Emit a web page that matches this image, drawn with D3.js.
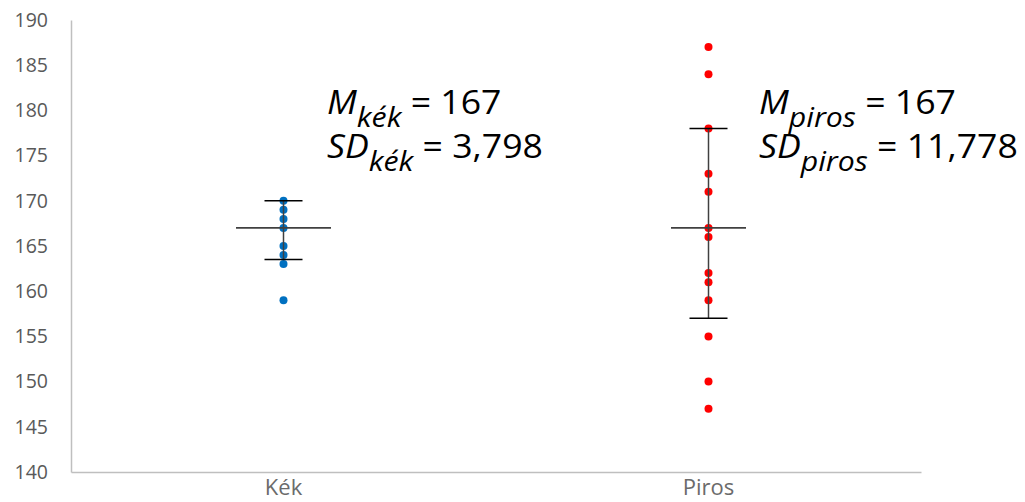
<!DOCTYPE html>
<html>
<head>
<meta charset="utf-8">
<script src="https://cdn.jsdelivr.net/npm/d3@7"></script>
<style>
  html, body { margin: 0; padding: 0; background: #fff; }
  svg { display: block; }
</style>
</head>
<body>
<svg id="chart" width="1025" height="502"></svg>
<script>
// Groups and individual heights (cm)
const categories = ["Kék", "Piros"];
const kekValues = [170, 169, 168, 167, 165, 164, 163, 159];
const pirosValues = [187, 184, 178, 173, 171, 167, 166, 162, 161, 159, 155, 150, 147];
const seriesValues = [kekValues, pirosValues];

// Group means, standard deviations and drawn error-bar ends
const means = [167, 167];
const sds = ["3,798", "11,778"];
const subscripts = ["kék", "piros"];
const errLow = [163.5, 157];
const errHigh = [170, 178];

// Axis ticks
const yTicks = [140, 145, 150, 155, 160, 165, 170, 175, 180, 185, 190];

const pointColors = ["#0070C0", "#FF0000"];
const meanHalfWidth = [47.5, 37.5];
const capHalfWidth = 19;

const svg = d3.select("#chart");
const plot = { left: 71, right: 921, top: 20, bottom: 472 };

const y = d3.scaleLinear().domain([140, 190]).range([plot.bottom, plot.top]);
const x = d3.scaleBand().domain(categories).range([plot.left, plot.right]);
const cx = c => x(c) + x.bandwidth() / 2;

const font = "'Open Sans', sans-serif";

// Y axis
const yAxis = svg.append("g")
  .attr("transform", `translate(${plot.left},0)`)
  .call(d3.axisLeft(y).tickValues(yTicks).tickSize(0).tickPadding(23));
yAxis.select(".domain").attr("stroke", "#BFBFBF").attr("stroke-width", 1.5);
yAxis.selectAll("text")
  .attr("fill", "#595959")
  .style("font-family", font)
  .style("font-size", "19.5px");

// X axis
const xAxis = svg.append("g")
  .attr("transform", `translate(0,${plot.bottom})`)
  .call(d3.axisBottom(x).tickSize(0));
xAxis.select(".domain").attr("stroke", "#BFBFBF").attr("stroke-width", 1.5);
xAxis.selectAll("text")
  .attr("y", 23)
  .attr("dy", 0)
  .attr("fill", "#6b6b6b")
  .style("font-family", font)
  .style("font-size", "22px");

// Individual points
categories.forEach((c, i) => {
  svg.append("g").selectAll("circle")
    .data(seriesValues[i])
    .join("circle")
    .attr("cx", cx(c))
    .attr("cy", d => y(d))
    .attr("r", 4)
    .attr("fill", pointColors[i]);
});

// Error bars and mean lines, drawn above the points
categories.forEach((c, i) => {
  const g = svg.append("g");
  const xc = cx(c);
  g.append("line")
    .attr("x1", xc).attr("x2", xc)
    .attr("y1", y(errLow[i])).attr("y2", y(errHigh[i]))
    .attr("stroke", "#404040").attr("stroke-width", 1.5);
  [errLow[i], errHigh[i]].forEach(v => {
    g.append("line")
      .attr("x1", xc - capHalfWidth).attr("x2", xc + capHalfWidth)
      .attr("y1", y(v)).attr("y2", y(v))
      .attr("stroke", "#000").attr("stroke-width", 1.5);
  });
  g.append("line")
    .attr("x1", xc - meanHalfWidth[i]).attr("x2", xc + meanHalfWidth[i])
    .attr("y1", y(means[i])).attr("y2", y(means[i]))
    .attr("stroke", "#404040").attr("stroke-width", 1.75);
});

// Mean / SD annotations
const annX = [327, 759];
categories.forEach((c, i) => {
  const lines = [["M", `= ${means[i]}`], ["SD", `= ${sds[i]}`]];
  lines.forEach((ln, j) => {
    const t = svg.append("text")
      .attr("transform", `translate(${annX[i]},${114 + j * 44}) scale(1.08,1)`)
      .style("font-family", font)
      .style("font-size", "33px")
      .attr("fill", "#000");
    t.append("tspan").attr("font-style", "italic").text(ln[0]);
    t.append("tspan").attr("font-style", "italic")
      .attr("dy", 13).style("font-size", "28px").text(subscripts[i]);
    t.append("tspan").attr("dy", -13).text(" " + ln[1]);
  });
});
</script>
</body>
</html>
